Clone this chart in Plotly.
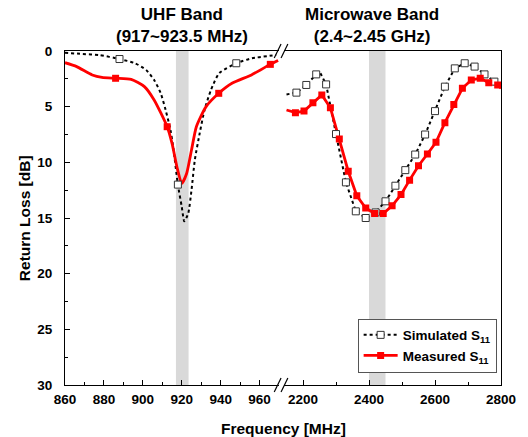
import plotly.graph_objects as go

# ---------------- data ----------------
# UHF band, simulated S11 (dotted line)
uhf_sim_freq = [860, 869, 877.5, 888, 896, 901.7, 905.8, 909.2, 911.7, 914.2, 915.8,
                918, 920, 921.3, 923.3, 925, 926.7, 929.2, 931.7, 935, 939.2, 948, 956, 968.5]
uhf_sim_rl = [0.15, 0.27, 0.36, 0.72, 1.1, 1.7, 2.6, 3.8, 5.3, 7.1, 8.9,
              12.0, 14.0, 15.3, 14.6, 12.5, 9.8, 7.4, 5.3, 3.5, 2.0, 1.1, 0.66, 0.36]
uhf_sim_mk_freq = [888, 918, 948]
uhf_sim_mk_rl = [0.72, 12.0, 1.1]

# UHF band, measured S11 (solid red line)
uhf_meas_freq = [860, 866, 874, 879, 886, 894, 900.8, 905.8, 912.5, 915, 917.5, 920,
                 922.5, 925, 927.5, 932.5, 939, 945.8, 955.8, 965.5, 969.5]
uhf_meas_rl = [1.05, 1.4, 2.15, 2.37, 2.45, 2.55, 3.2, 4.4, 6.8, 8.3, 10.4, 11.9,
               11.0, 8.9, 6.8, 5.0, 3.8, 2.9, 2.15, 1.2, 0.85]
uhf_meas_mk_freq = [886, 912.5, 939, 965.5]
uhf_meas_mk_rl = [2.45, 6.8, 3.8, 1.2]

# Microwave band, simulated S11
mw_sim_mk_freq = [2180, 2210, 2240, 2270, 2300, 2330, 2360, 2390, 2420, 2450, 2480,
                  2510, 2540, 2570, 2600, 2630, 2660, 2690, 2720, 2750, 2780]
mw_sim_mk_rl = [3.74, 3.05, 2.1, 3.0, 7.46, 11.8, 14.4, 15.0, 14.5, 13.5, 12.1,
                10.7, 9.3, 7.5, 5.4, 3.2, 1.56, 1.1, 1.4, 2.1, 2.75]
mw_sim_freq = [2150, 2180, 2210, 2240, 2252, 2270, 2300, 2330, 2360, 2390, 2420, 2450,
               2480, 2510, 2540, 2570, 2600, 2630, 2660, 2690, 2720, 2750, 2780, 2800]
mw_sim_rl = [3.9, 3.74, 3.05, 2.1, 1.95, 3.0, 7.46, 11.8, 14.4, 15.0, 14.5, 13.5,
             12.1, 10.7, 9.3, 7.5, 5.4, 3.2, 1.56, 1.1, 1.4, 2.1, 2.75, 3.2]

# Microwave band, measured S11
mw_meas_mk_freq = [2177, 2203, 2230, 2257, 2283, 2310, 2337, 2363, 2390, 2417, 2443, 2470,
                   2497, 2523, 2550, 2577, 2603, 2630, 2657, 2683, 2710, 2737, 2763, 2790]
mw_meas_mk_rl = [5.54, 5.4, 4.64, 3.95, 5.1, 7.9, 10.8, 13.0, 14.1, 14.6, 14.6, 13.9,
                 12.9, 11.6, 10.3, 9.25, 8.2, 6.44, 4.8, 3.35, 2.6, 2.45, 2.85, 3.05]
mw_meas_freq = [2150] + mw_meas_mk_freq + [2800]
mw_meas_rl = [5.3] + mw_meas_mk_rl + [3.35]

# bands of interest
uhf_band = [917, 923.5]
mw_band = [2400, 2450]

# tick labels
uhf_ticks = [860, 880, 900, 920, 940, 960]
mw_ticks = [2200, 2400, 2600, 2800]
rl_ticks = [0, 5, 10, 15, 20, 25, 30]

series_names = ["Simulated S<sub>11</sub>", "Measured S<sub>11</sub>"]
panel_titles = ["UHF Band<br>(917~923.5 MHz)", "Microwave Band<br>(2.4~2.45 GHz)"]
x_title = "Frequency [MHz]"
y_title = "Return Loss [dB]"

# ---------------- styles ----------------
FONT = "Arial, Liberation Sans, DejaVu Sans, sans-serif"
SIM_LINE = dict(color="black", width=2, dash="dot")
MEAS_LINE = dict(color="#ff0000", width=2.8)
SIM_MK = dict(symbol="square", size=7, color="white", line=dict(color="#333333", width=1))
MEAS_MK = dict(symbol="square", size=7, color="#ff0000", line=dict(width=0))

fig = go.Figure()

# UHF panel
fig.add_trace(go.Scatter(x=uhf_sim_freq, y=uhf_sim_rl, mode="lines", line=SIM_LINE,
                         line_shape="spline", line_smoothing=0.6,
                         showlegend=False, xaxis="x", yaxis="y", hoverinfo="skip"))
fig.add_trace(go.Scatter(x=uhf_meas_freq, y=uhf_meas_rl, mode="lines", line=MEAS_LINE,
                         line_shape="spline", line_smoothing=0.6,
                         showlegend=False, xaxis="x", yaxis="y", hoverinfo="skip"))
fig.add_trace(go.Scatter(x=uhf_sim_mk_freq, y=uhf_sim_mk_rl, mode="markers", marker=SIM_MK,
                         showlegend=False, xaxis="x", yaxis="y"))
fig.add_trace(go.Scatter(x=uhf_meas_mk_freq, y=uhf_meas_mk_rl, mode="markers", marker=MEAS_MK,
                         showlegend=False, xaxis="x", yaxis="y"))

# Microwave panel
fig.add_trace(go.Scatter(x=mw_sim_freq, y=mw_sim_rl, mode="lines", line=SIM_LINE,
                         showlegend=False, xaxis="x2", yaxis="y2", hoverinfo="skip"))
fig.add_trace(go.Scatter(x=mw_meas_freq, y=mw_meas_rl, mode="lines", line=MEAS_LINE,
                         showlegend=False, xaxis="x2", yaxis="y2", hoverinfo="skip"))
fig.add_trace(go.Scatter(x=mw_sim_mk_freq, y=mw_sim_mk_rl, mode="markers", marker=SIM_MK,
                         showlegend=False, xaxis="x2", yaxis="y2"))
fig.add_trace(go.Scatter(x=mw_meas_mk_freq, y=mw_meas_mk_rl, mode="markers", marker=MEAS_MK,
                         showlegend=False, xaxis="x2", yaxis="y2"))

# legend entries
fig.add_trace(go.Scatter(x=[None], y=[None], mode="lines+markers", name=series_names[0],
                         line=SIM_LINE, marker=SIM_MK, xaxis="x2", yaxis="y2"))
fig.add_trace(go.Scatter(x=[None], y=[None], mode="lines+markers", name=series_names[1],
                         line=MEAS_LINE, marker=MEAS_MK, xaxis="x2", yaxis="y2"))

tickfont = dict(family=FONT, size=13.5, color="black", weight="bold")
axis_common = dict(showgrid=False, zeroline=False, showline=True, linecolor="black",
                   linewidth=1.2, ticks="inside", ticklen=5, tickwidth=1, tickcolor="black",
                   tickfont=tickfont)

fig.update_layout(
    width=528, height=437,
    margin=dict(l=65, r=15, t=51, b=52),
    paper_bgcolor="white", plot_bgcolor="white",
    font=dict(family=FONT, color="black"),
    xaxis=dict(domain=[0, 0.491], range=[860, 970], anchor="y", mirror=True,
               tickmode="array", tickvals=uhf_ticks, ticktext=[str(v) for v in uhf_ticks],
               ticklabelstandoff=2, ticklabeloverflow="allow",
               minor=dict(tickmode="linear", tick0=870, dtick=20, ticks="inside",
                          ticklen=2.5, tickcolor="black"),
               **axis_common),
    xaxis2=dict(domain=[0.502, 1], range=[2142, 2800], anchor="y2", mirror=True,
                tickmode="array", tickvals=mw_ticks, ticktext=[str(v) for v in mw_ticks],
                ticklabelstandoff=2, ticklabeloverflow="allow",
                minor=dict(tickmode="linear", tick0=2300, dtick=200, ticks="inside",
                           ticklen=2.5, tickcolor="black"),
                **axis_common),
    yaxis=dict(domain=[0, 1], range=[30, 0], anchor="x",
               tickmode="array", tickvals=rl_ticks, ticktext=[str(v) for v in rl_ticks],
               ticklabelstandoff=9, ticklabeloverflow="allow",
               minor=dict(tickmode="linear", tick0=2.5, dtick=5, ticks="inside",
                          ticklen=2.5, tickcolor="black"),
               **axis_common),
    yaxis2=dict(domain=[0, 1], range=[30, 0], anchor="x2", matches="y", side="right",
                showgrid=False, zeroline=False, showline=True, linecolor="black",
                linewidth=1.2, ticks="", showticklabels=False),
    legend=dict(x=0.99, xanchor="right", y=0.118, yanchor="middle",
                bgcolor="white", bordercolor="#555555", borderwidth=1,
                font=dict(family=FONT, size=13.5, color="black", weight="bold"),
                tracegroupgap=0, itemwidth=34),
)

# band shading
shapes = [
    dict(type="rect", xref="x", yref="y domain", x0=uhf_band[0], x1=uhf_band[1], y0=0, y1=1,
         fillcolor="#d9d9d9", line=dict(width=0), layer="below"),
    dict(type="rect", xref="x2", yref="y domain", x0=mw_band[0], x1=mw_band[1], y0=0, y1=1,
         fillcolor="#d9d9d9", line=dict(width=0), layer="below"),
]
# axis-break marks "//" (paper coordinates of plot box)
W, H = 448.0, 334.0
def px(xp, yp):
    return (xp - 65) / W, (385 - yp) / H
for ybase in (51, 385):
    for xoff in (283, 290):
        x0, y0 = px(xoff - 3, ybase + 7)
        x1, y1 = px(xoff + 4, ybase - 7)
        shapes.append(dict(type="line", xref="paper", yref="paper", x0=x0, y0=y0,
                           x1=x1, y1=y1, line=dict(color="black", width=1.2)))
fig.update_layout(shapes=shapes)

title_font = dict(family=FONT, size=17, color="black", weight="bold")
fig.add_annotation(text=panel_titles[0], xref="x", yref="paper", x=920, y=1.009,
                   yanchor="bottom", showarrow=False, font=title_font, align="center")
fig.add_annotation(text=panel_titles[1], xref="x2", yref="paper", x=2408, y=1.009,
                   yanchor="bottom", showarrow=False, font=title_font, align="center")
axis_title_font = dict(family=FONT, size=15.5, color="black", weight="bold")
fig.add_annotation(text=x_title, xref="paper", yref="paper", x=0.5, y=(385 - 428) / H,
                   yanchor="middle", showarrow=False, font=axis_title_font)
fig.add_annotation(text=y_title, xref="paper", yref="paper", x=(23 - 65) / W, y=0.5,
                   xanchor="center", yanchor="middle", textangle=-90,
                   showarrow=False, font=axis_title_font)

fig.write_html("out.html")
